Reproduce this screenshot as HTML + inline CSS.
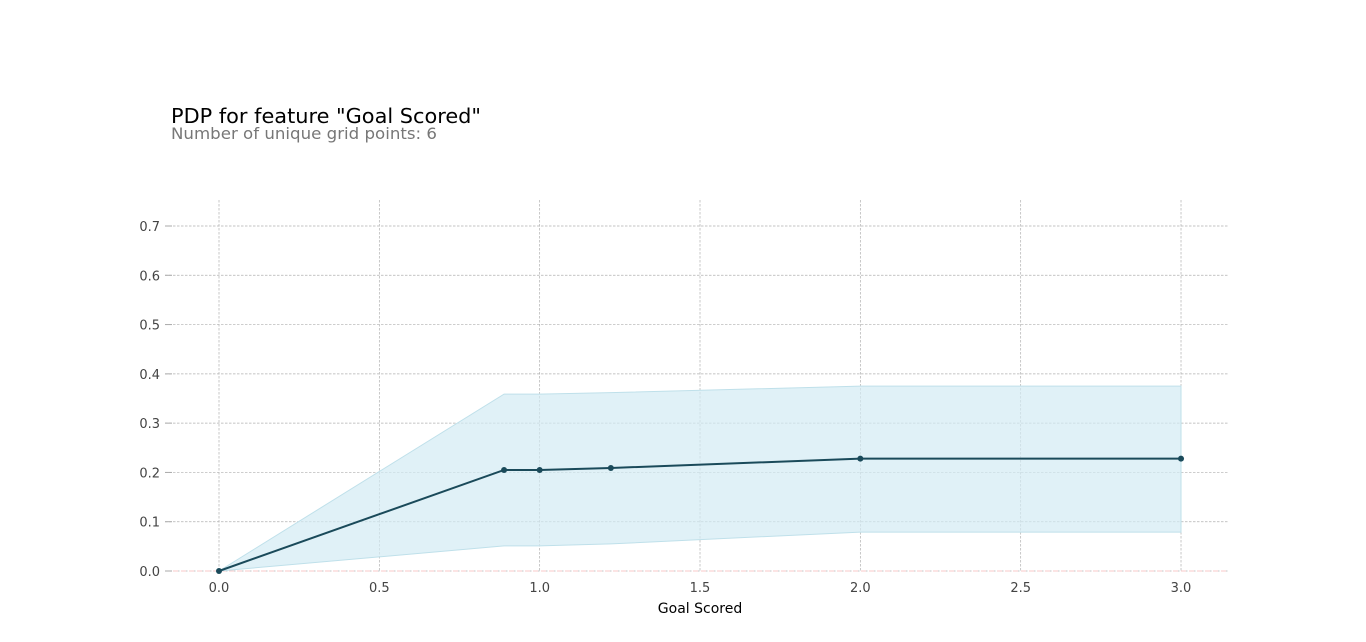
<!DOCTYPE html>
<html><head><meta charset="utf-8"><style>
body{margin:0;background:#fff;width:1366px;height:642px;overflow:hidden}
svg{display:block;font-family:"DejaVu Sans","Liberation Sans",sans-serif}
</style></head><body>
<svg id="chart" width="1366" height="642">
<text x="171" y="123" font-size="20.5" fill="#000" textLength="310" lengthAdjust="spacingAndGlyphs">PDP for feature "Goal Scored"</text>
<text x="171" y="139" font-size="16" fill="#777" textLength="266" lengthAdjust="spacingAndGlyphs">Number of unique grid points: 6</text>
<g id="grid"></g><g id="band"></g><g id="line"></g><g id="axes"></g>
<text x="700" y="613" font-size="14" text-anchor="middle" fill="#000">Goal Scored</text>
</svg>
<script>
const xs=[0,0.889,1.0,1.222,2.0,3.0];
const ys=[0,0.205,0.205,0.209,0.228,0.228];
const upper=[0,0.359,0.359,0.362,0.375,0.375];
const lower=[0,0.051,0.051,0.055,0.079,0.079];
const xTicks=[0,0.5,1.0,1.5,2.0,2.5,3.0];
const yTicks=[0,0.1,0.2,0.3,0.4,0.5,0.6,0.7];
const NS="http://www.w3.org/2000/svg";
const X=v=>219+v*320.67, Y=v=>571-v*492.86;
function mk(t,a,p){const e=document.createElementNS(NS,t);for(const k in a)e.setAttribute(k,a[k]);p.appendChild(e);return e;}
const g=document.getElementById('grid'),ax=document.getElementById('axes');
yTicks.forEach(t=>{
 const l=mk('line',{x1:165,x2:1228,y1:Y(t),y2:Y(t),stroke:'#b0b0b0','stroke-width':0.7,'stroke-dasharray':'2.5,1.5'},g);
 
 const k=mk('line',{x1:165,x2:172,y1:Y(t),y2:Y(t),stroke:'#aaa'},ax);
 const s=mk('text',{x:160,y:Y(t)+5,'font-size':13,'text-anchor':'end',fill:'#444'},ax);s.textContent=t.toFixed(1);
 
});
xTicks.forEach(t=>{
 const l=mk('line',{x1:X(t),x2:X(t),y1:200,y2:571,stroke:'#b0b0b0','stroke-width':0.7,'stroke-dasharray':'2.5,1.5'},g);
 
 const s=mk('text',{x:X(t),y:592,'font-size':13,'text-anchor':'middle',fill:'#444'},ax);s.textContent=t.toFixed(1);
 
});
const z=mk('line',{x1:165,x2:1228,y1:Y(0),y2:Y(0),stroke:'#f8c8c8','stroke-width':1,'stroke-dasharray':'5,3'},g);

let d=xs.map((x,i)=>(i?'L':'M')+X(x)+','+Y(upper[i])).join('');
for(let i=xs.length-1;i>=0;i--)d+='L'+X(xs[i])+','+Y(lower[i]);
const b=mk('path',{d:d+'Z',fill:'#d3ebf4','fill-opacity':0.7,stroke:'#bfe0ea','stroke-width':1},document.getElementById('band'));

const ln=document.getElementById('line');
const p=mk('polyline',{points:xs.map((x,i)=>X(x)+','+Y(ys[i])).join(' '),fill:'none',stroke:'#1a4a5a','stroke-width':2},ln);

xs.forEach((x,i)=>{const c=mk('circle',{cx:X(x),cy:Y(ys[i]),r:3,fill:'#1a4a5a'},ln);
 });
</script>
</body></html>
